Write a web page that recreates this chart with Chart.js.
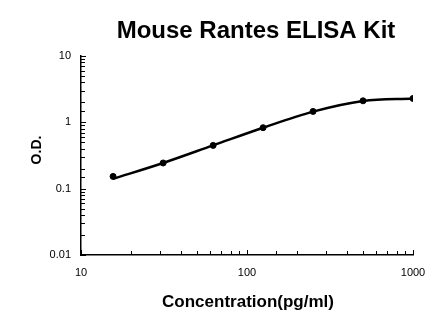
<!DOCTYPE html>
<html>
<head>
<meta charset="utf-8">
<script src="https://cdn.jsdelivr.net/npm/chart.js@4/dist/chart.umd.min.js"></script>
<style>
  html, body { margin: 0; padding: 0; background: #fff; }
  #wrap { width: 446px; height: 326px; }
</style>
</head>
<body>
<div id="wrap"><canvas id="myChart" width="446" height="326"></canvas></div>
<script>
"use strict";
// standard concentrations and measured optical density
const conc = [15.6, 31.25, 62.5, 125, 250, 500, 1000];
const od = [0.153, 0.244, 0.449, 0.83, 1.46, 2.11, 2.29];
// fitted standard curve, read at the same concentrations
const fitOD = [0.141, 0.244, 0.45, 0.83, 1.45, 2.1, 2.29];
const xTickLabels = ["10", "100", "1000"];
const yTickLabels = ["0.01", "0.1", "1", "10"];

const FONT = "'Liberation Sans', Arial, sans-serif";

const isDecade = (v) => Math.abs(Math.log10(v) - Math.round(Math.log10(v))) < 1e-6;

const decorations = {
  id: "decorations",
  afterDraw(chart) {
    const { ctx, chartArea, scales } = chart;
    ctx.save();
    ctx.strokeStyle = "#000";
    ctx.lineWidth = 1;
    // tick marks pointing into the plot
    for (const t of scales.y.ticks) {
      const y = Math.round(scales.y.getPixelForValue(t.value)) + 0.5;
      const len = isDecade(t.value) ? 5 : 4;
      ctx.beginPath();
      ctx.moveTo(chartArea.left, y);
      ctx.lineTo(chartArea.left + len, y);
      ctx.stroke();
    }
    for (const t of scales.x.ticks) {
      const x = Math.round(scales.x.getPixelForValue(t.value)) + 0.5;
      const len = isDecade(t.value) ? 5 : 4;
      ctx.beginPath();
      ctx.moveTo(x, chartArea.bottom);
      ctx.lineTo(x, chartArea.bottom - len);
      ctx.stroke();
    }
    ctx.fillStyle = "#000";
    ctx.textAlign = "center";
    ctx.textBaseline = "alphabetic";
    ctx.font = "bold 24px " + FONT;
    ctx.fillText("Mouse Rantes ELISA Kit", 256, 38);
    ctx.font = "bold 17px " + FONT;
    ctx.fillText("Concentration(pg/ml)", 248, 307);
    ctx.translate(41, 150);
    ctx.rotate(-Math.PI / 2);
    ctx.font = "bold 14px " + FONT;
    ctx.fillText("O.D.", 0, 0);
    ctx.restore();
  },
};

const createChart = () => {
  const ctx = document.getElementById("myChart").getContext("2d");
  return new Chart(ctx, {
    type: "scatter",
    data: {
      datasets: [
        {
          label: "fit",
          data: conc.map((c, i) => ({ x: c, y: fitOD[i] })),
          showLine: true,
          borderColor: "#000",
          borderWidth: 2.5,
          pointRadius: 0,
          cubicInterpolationMode: "monotone",
        },
        {
          label: "O.D.",
          data: conc.map((c, i) => ({ x: c, y: od[i] })),
          backgroundColor: "#000",
          borderColor: "#000",
          pointRadius: 3,
          showLine: false,
        },
      ],
    },
    options: {
      responsive: false,
      animation: false,
      layout: { padding: { top: 56, right: 33, left: 0, bottom: 0 } },
      plugins: { legend: { display: false }, tooltip: { enabled: false } },
      scales: {
        x: {
          type: "logarithmic",
          min: 10,
          max: 1000,
          afterFit: (scale) => { scale.height = 71; },
          grid: { display: true, drawOnChartArea: false, drawTicks: false },
          border: { display: true, color: "#000", width: 1.5 },
          ticks: {
            autoSkip: false,
            maxRotation: 0,
            padding: 11,
            color: "#000",
            font: { family: FONT, size: 11 },
            callback: (v) => {
              const s = String(v);
              return xTickLabels.includes(s) ? s : "";
            },
          },
        },
        y: {
          type: "logarithmic",
          min: 0.01,
          max: 10,
          afterFit: (scale) => { scale.width = 81; },
          grid: { display: true, drawOnChartArea: false, drawTicks: false },
          border: { display: true, color: "#000", width: 1.5 },
          ticks: {
            autoSkip: false,
            padding: 10,
            color: "#000",
            font: { family: FONT, size: 11 },
            callback: (v) => {
              const s = String(Number(v.toPrecision(6)));
              return yTickLabels.includes(s) ? s : "";
            },
          },
        },
      },
    },
    plugins: [decorations],
  });
};

createChart();
</script>
</body>
</html>
